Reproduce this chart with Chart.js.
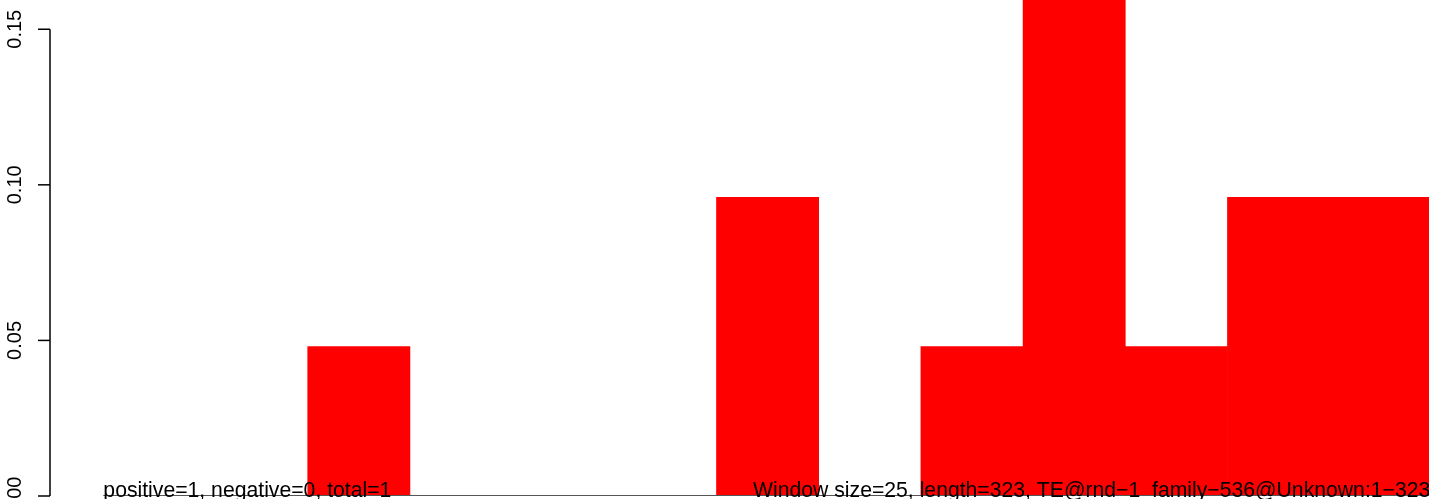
<!DOCTYPE html>
<html>
<head>
<meta charset="utf-8">
<script src="https://cdn.jsdelivr.net/npm/chart.js@4/dist/chart.umd.min.js"></script>
<style>
html,body{margin:0;padding:0;background:#fff;overflow:hidden;}
canvas{display:block;}
</style>
</head>
<body>
<canvas id="c" width="1429" height="499"></canvas>
<script>
// ---- data ----
const windowSize = 25;
const seqLength = 323;
const binStarts = [0, 25, 50, 75, 100, 125, 150, 175, 200, 225, 250, 275, 300];
const density = [0, 0, 0.048, 0, 0, 0, 0.096, 0, 0.048, 0.192, 0.048, 0.096, 0.096];
const yTicks = [0, 0.05, 0.10, 0.15];
const yTickLabels = ['0.00', '0.05', '0.10', '0.15'];
const leftNote = 'positive=1, negative=0, total=1';
const rightNote = 'Window size=25, length=323, TE@rnd\u22121_family\u2212536@Unknown:1\u2212323';

const FONT = '"Liberation Sans", Arial, Helvetica, sans-serif';

const axesPlugin = {
  id: 'rAxes',
  afterDatasetsDraw(chart) {
    const ctx = chart.ctx;
    const xs = chart.scales.x, ys = chart.scales.y;
    const area = chart.chartArea;
    ctx.save();
    const ax = area.left;
    const yTop = ys.getPixelForValue(yTicks[yTicks.length - 1]);
    const yBot = ys.getPixelForValue(yTicks[0]);
    ctx.strokeStyle = '#000';
    ctx.lineWidth = 1.5;
    ctx.beginPath();
    ctx.moveTo(ax, yTop);
    ctx.lineTo(ax, yBot);
    ctx.stroke();
    ctx.font = '20px ' + FONT;
    ctx.fillStyle = '#000';
    yTicks.forEach((v, i) => {
      const py = ys.getPixelForValue(v);
      ctx.beginPath();
      ctx.moveTo(ax - 12, py);
      ctx.lineTo(ax, py);
      ctx.stroke();
      ctx.save();
      ctx.translate(ax - 29, py);
      ctx.rotate(-Math.PI / 2);
      ctx.textAlign = 'center';
      ctx.textBaseline = 'alphabetic';
      ctx.fillText(yTickLabels[i], 0, 0);
      ctx.restore();
    });
    // x axis line (grey)
    ctx.strokeStyle = '#555';
    ctx.lineWidth = 1;
    ctx.beginPath();
    ctx.moveTo(xs.getPixelForValue(0), yBot - 0.5);
    ctx.lineTo(xs.getPixelForValue(seqLength + 10), yBot - 0.5);
    ctx.stroke();
    // notes
    ctx.font = '21.2px ' + FONT;
    ctx.fillStyle = '#000';
    ctx.textBaseline = 'alphabetic';
    ctx.textAlign = 'left';
    ctx.fillText(leftNote, xs.getPixelForValue(0), yBot + 1);
    ctx.fillText(rightNote, 753, yBot + 1);
    ctx.restore();
  }
};

new Chart(document.getElementById('c'), {
  type: 'bar',
  data: {
    datasets: [{
      data: binStarts.map((s, i) => ({ x: s + windowSize / 2, y: density[i] })),
      backgroundColor: '#ff0000',
      borderWidth: 0,
      barPercentage: 1,
      categoryPercentage: 1
    }]
  },
  options: {
    responsive: false,
    animation: false,
    events: [],
    layout: { padding: { left: 50, top: 0, right: 0, bottom: 3 } },
    plugins: { legend: { display: false }, tooltip: { enabled: false } },
    scales: {
      x: {
        type: 'linear', display: false, min: -13.05, max: 324.3, offset: false,
        afterBuildTicks(scale) {
          scale.ticks = binStarts.map(s => ({ value: s + windowSize / 2 }));
        }
      },
      y: { type: 'linear', display: false, min: 0, max: 0.1594 }
    }
  },
  plugins: [axesPlugin]
});
</script>
</body>
</html>
